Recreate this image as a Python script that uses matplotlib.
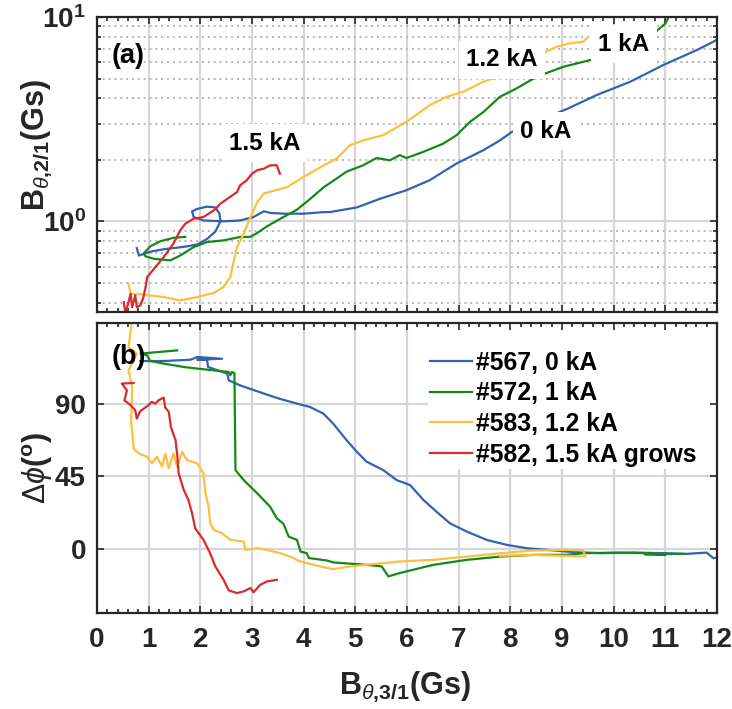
import matplotlib
matplotlib.use("Agg")
import matplotlib.pyplot as plt
from matplotlib.ticker import FixedLocator, FixedFormatter, MultipleLocator, NullFormatter

# ---- B_theta,2/1 vs B_theta,3/1 (top panel, log y) ----
top_x_567 = [0.77, 0.81, 1.03, 1.29, 1.68, 1.94, 2.13, 2.29, 2.39, 2.37, 2.29, 2.13, 1.94, 1.84,
             1.87, 2.06, 2.45, 2.77, 3.03, 3.23, 3.35, 3.61, 4.00, 4.39, 4.51, 5.03, 5.48, 5.99,
             6.44, 6.96, 7.48, 7.80, 8.03, 8.40, 8.80, 9.12, 9.67, 10.32, 10.96, 11.61, 11.93, 12.0]
top_y_567 = [0.74, 0.68, 0.71, 0.73, 0.75, 0.77, 0.82, 0.89, 1.00, 1.09, 1.17, 1.18, 1.15, 1.12,
             1.05, 1.01, 1.00, 1.01, 1.05, 1.12, 1.10, 1.09, 1.09, 1.11, 1.11, 1.17, 1.29, 1.42,
             1.59, 1.92, 2.23, 2.49, 2.74, 3.00, 3.30, 3.57, 4.15, 4.82, 5.82, 6.89, 7.57, 7.75]

top_x_572 = [1.71, 1.48, 1.23, 1.03, 0.90, 0.94, 1.10, 1.42, 1.61, 1.87, 2.13, 2.45, 2.77, 2.97,
             3.10, 3.29, 3.55, 3.87, 4.13, 4.39, 4.51, 4.83, 5.15, 5.41, 5.67, 5.86, 5.99, 6.32,
             6.70, 6.96, 7.22, 7.48, 7.80, 8.12, 8.51, 9.02, 9.67, 10.3, 10.75, 11.0, 11.12]
top_y_572 = [0.84, 0.83, 0.80, 0.754, 0.695, 0.674, 0.656, 0.644, 0.68, 0.748, 0.792, 0.807, 0.838,
             0.84, 0.877, 0.945, 1.03, 1.14, 1.29, 1.47, 1.54, 1.75, 1.88, 2.04, 1.99, 2.11, 2.04,
             2.19, 2.40, 2.64, 3.07, 3.43, 4.07, 4.47, 5.10, 5.70, 6.27, 7.0, 8.2, 9.3, 10.6]

top_x_583 = [0.61, 0.65, 0.84, 1.29, 1.61, 1.94, 2.26, 2.45, 2.58, 2.65, 2.71, 2.84, 2.97, 3.10,
             3.23, 3.42, 3.68, 4.00, 4.39, 4.64, 4.90, 5.15, 5.54, 5.99, 6.44, 6.77, 7.09, 7.48,
             7.86, 8.19, 8.60, 8.90, 9.15, 9.41, 9.51]
top_y_583 = [0.495, 0.442, 0.439, 0.426, 0.41, 0.426, 0.446, 0.477, 0.533, 0.644, 0.748, 0.87,
             1.05, 1.24, 1.37, 1.41, 1.47, 1.65, 1.88, 2.03, 2.36, 2.49, 2.64, 3.07, 3.70, 4.07,
             4.31, 4.82, 5.2, 5.5, 6.6, 7.15, 7.43, 7.57, 8.0]

top_x_582 = [0.52, 0.55, 0.61, 0.65, 0.68, 0.74, 0.77, 0.84, 0.90, 0.94, 0.97, 1.13, 1.29, 1.48,
             1.61, 1.71, 1.87, 2.06, 2.26, 2.39, 2.58, 2.71, 2.77, 2.90, 3.00, 3.10, 3.23, 3.35,
             3.48, 3.54]
top_y_582 = [0.402, 0.355, 0.402, 0.442, 0.38, 0.434, 0.38, 0.388, 0.426, 0.477, 0.533, 0.597,
             0.668, 0.778, 0.903, 0.974, 1.03, 1.05, 1.13, 1.22, 1.32, 1.39, 1.50, 1.59, 1.71,
             1.78, 1.81, 1.88, 1.88, 1.71]

# ---- phase difference vs B_theta,3/1 (bottom panel) ----
bot_x_567 = [0.84, 1.29, 1.81, 1.94, 2.42, 1.94, 2.13, 2.15, 2.52, 2.55, 2.77, 3.23, 3.52, 3.87,
             4.12, 4.38, 4.57, 4.83, 5.03, 5.22, 5.54, 5.80, 6.06, 6.32, 6.57, 6.83, 7.16, 7.54,
             7.93, 8.32, 8.71, 9.09, 9.74, 10.38, 11.03, 11.41, 11.80, 11.93, 12.0]
bot_y_567 = [116.4, 116.4, 117.2, 118.9, 117.8, 117.2, 117.2, 112.7, 108.6, 104.4, 101.3, 96.2,
             93.1, 90.0, 87.9, 83.8, 77.6, 67.3, 60.0, 53.9, 48.7, 42.5, 39.4, 30.1, 22.9, 15.7,
             10.5, 5.4, 2.3, 0.2, -0.8, -1.9, -2.9, -2.5, -2.9, -3.3, -2.5, -6.0, -5.5]

bot_x_572 = [1.55, 0.84, 0.97, 1.03, 1.29, 1.68, 1.94, 2.26, 2.55, 2.58, 2.61, 2.66, 2.68, 2.84,
             3.10, 3.35, 3.48, 3.61, 3.71, 3.87, 3.94, 4.06, 4.10, 4.45, 4.57, 5.22, 5.51, 5.64,
             5.86, 6.51, 7.16, 7.80, 8.45, 9.09, 9.41, 10.06, 10.7, 11.0, 10.6, 11.35]
bot_y_572 = [123.0, 121.0, 119.9, 116.4, 114.8, 112.7, 111.7, 110.6, 109.6, 107.5, 109.6, 108.9,
             48.7, 42.5, 34.3, 26.0, 18.8, 15.3, 7.4, 5.4, -1.9, -2.9, -5.9, -7.4, -8.6, -10.1,
             -11.1, -17.3, -15.2, -10.1, -7.0, -5.0, -3.9, -3.9, -2.9, -2.5, -2.9, -4.0, -3.5, -3.3]

bot_x_583 = [0.65, 0.68, 0.61, 0.77, 0.61, 0.68, 0.66, 0.71, 0.81, 0.97, 1.06, 1.16, 1.26, 1.32,
             1.39, 1.48, 1.55, 1.65, 1.74, 1.94, 2.06, 2.10, 2.16, 2.19, 2.26, 2.42, 2.58, 2.84,
             2.87, 3.10, 3.29, 3.55, 3.74, 3.93, 4.32, 4.57, 4.90, 5.22, 5.86, 6.51, 7.16, 7.80,
             8.45, 9.09, 9.41, 9.45, 8.45, 7.80]
bot_y_583 = [143.6, 141.6, 125.0, 121.0, 110.6, 100.3, 79.7, 62.1, 59.0, 57.0, 52.9, 57.0, 50.8,
             59.0, 49.8, 59.0, 50.8, 60.0, 54.9, 52.9, 46.7, 34.3, 26.0, 15.7, 11.6, 9.5, 5.4,
             4.3, -0.8, 0.2, -0.8, -2.9, -5.0, -8.0, -11.1, -12.8, -11.1, -10.1, -8.0, -7.0,
             -5.0, -2.9, -1.2, -0.8, -1.2, -4.9, -4.0, -4.5]

bot_x_582 = [0.71, 0.48, 0.58, 0.53, 0.65, 0.74, 0.77, 0.84, 0.97, 1.06, 1.13, 1.19, 1.29, 1.32,
             1.39, 1.43, 1.52, 1.55, 1.58, 1.68, 1.77, 1.84, 1.90, 2.06, 2.19, 2.29, 2.45, 2.55,
             2.71, 2.84, 2.97, 3.03, 3.16, 3.29, 3.48]
bot_y_582 = [102.8, 102.4, 98.2, 92.0, 89.0, 85.9, 80.7, 85.4, 88.3, 91.0, 90.0, 92.0, 93.7, 87.5,
             84.8, 75.5, 67.3, 59.0, 46.7, 36.3, 30.1, 21.9, 12.6, 5.4, -2.9, -11.1, -19.4, -26.0,
             -27.6, -26.6, -24.5, -27.1, -22.5, -20.4, -19.4]

legend_labels = ["#567, 0 kA", "#572, 1 kA", "#583, 1.2 kA", "#582, 1.5 kA grows"]
colors = ["#3262b2", "#14891a", "#fdbf3e", "#d82b2b"]

# current labels placed on the top panel
curve_labels = ["1.5 kA", "1.2 kA", "1 kA", "0 kA"]
curve_label_x = [3.25, 7.84, 10.2, 8.69]
curve_label_y = [2.41, 6.16, 7.37, 2.76]

plt.rcParams["font.family"] = "Liberation Sans"
plt.rcParams["font.weight"] = "bold"
plt.rcParams["mathtext.fontset"] = "custom"
plt.rcParams["mathtext.rm"] = "Liberation Sans:weight=normal"
plt.rcParams["mathtext.it"] = "Liberation Sans:style=italic:weight=normal"
plt.rcParams["mathtext.bf"] = "Liberation Sans:weight=bold"

SPINE = "#262626"
GRID = "#d6d6d6"

# legend block in the bottom panel (axes fraction): gridlines stop at its edges
LEG_LEFT, LEG_BOTTOM = 0.532, 0.493


def style_axes(ax):
    for s in ax.spines.values():
        s.set_linewidth(1.6)
        s.set_color(SPINE)
    ax.tick_params(which="both", direction="in", top=True, right=True, color=SPINE, width=1.2)
    ax.tick_params(which="major", length=5, labelsize=20, labelcolor=SPINE)
    ax.tick_params(axis="x", which="major", pad=10)
    ax.tick_params(axis="y", which="major", pad=8)
    ax.tick_params(which="minor", length=3)
    ax.set_axisbelow(True)
    ax.set_xlim(0, 12)
    ax.xaxis.set_major_locator(MultipleLocator(1))
    ax.xaxis.set_minor_locator(MultipleLocator(0.2))


fig = plt.figure(figsize=(7.32, 7.09), dpi=100)
ax1 = fig.add_axes([97 / 732, 1 - 312 / 709, 620 / 732, 295 / 709])
ax2 = fig.add_axes([97 / 732, 1 - 613 / 709, 620 / 732, 290 / 709])

# top panel
style_axes(ax1)
ax1.grid(True, which="major", color=GRID, lw=1.6, ls="-")
ax1.set_yscale("log")
ax1.set_ylim(0.36, 10)
ax1.yaxis.set_major_locator(FixedLocator([1, 10]))
ax1.yaxis.set_major_formatter(FixedFormatter([r"$\mathbf{10^{0}}$", r"$\mathbf{10^{1}}$"]))
ax1.yaxis.set_minor_locator(FixedLocator([0.4, 0.5, 0.6, 0.7, 0.8, 0.9, 2, 3, 4, 5, 6, 7, 8, 9]))
ax1.yaxis.set_minor_formatter(NullFormatter())
ax1.xaxis.set_major_formatter(NullFormatter())
ax1.grid(True, which="minor", axis="y", color="#b4b4b4", lw=1.4, ls=(0, (1, 2)))

top_series = [(top_x_567, top_y_567), (top_x_572, top_y_572),
              (top_x_583, top_y_583), (top_x_582, top_y_582)]
for (xs, ys), c in zip(top_series, colors):
    ax1.plot(xs, ys, color=c, lw=1.6)

for txt, x, y in zip(curve_labels, curve_label_x, curve_label_y):
    ax1.text(x, y, txt, fontsize=17.5, fontweight="bold", ha="center", va="center", zorder=4,
             bbox=dict(boxstyle="square,pad=0.3", fc="white", ec="none"))
ax1.text(0.024, 0.868, "(a)", transform=ax1.transAxes, fontsize=19.5, fontweight="bold",
         ha="left", va="center")

# bottom panel
style_axes(ax2)
ax2.set_ylim(-40, 140)
ax2.set_yticks([0, 45, 90])

# grid drawn by hand so it stays clear of the legend block
x_frac = lambda v: (v - 0) / 12
for gx in range(1, 12):
    top = LEG_BOTTOM if x_frac(gx) > LEG_LEFT else 1
    ax2.axvline(gx, ymin=0, ymax=top, color=GRID, lw=1.6, zorder=0.5)
for gy in [0, 45, 90]:
    right = LEG_LEFT if (gy + 40) / 180 > LEG_BOTTOM else 1
    ax2.axhline(gy, xmin=0, xmax=right, color=GRID, lw=1.6, zorder=0.5)

bot_series = [(bot_x_567, bot_y_567), (bot_x_572, bot_y_572),
              (bot_x_583, bot_y_583), (bot_x_582, bot_y_582)]
for (xs, ys), c, lab in zip(bot_series, colors, legend_labels):
    ax2.plot(xs, ys, color=c, lw=1.6, label=lab)

ax2.text(0.024, 0.883, "(b)", transform=ax2.transAxes, fontsize=19.5, fontweight="bold",
         ha="left", va="center")

ax2.legend(loc="upper left", bbox_to_anchor=(0.537, 0.905), prop={"size": 17.8, "weight": "bold"},
           frameon=False, borderaxespad=0, borderpad=0, handlelength=1.7, handletextpad=0.15,
           labelspacing=0.27)

# axis labels
fig.text(0.553, 0.031, r"$\mathbf{B}_{\theta\mathbf{{,}3/1}}\mathbf{(Gs)}$", fontsize=22,
         ha="center", va="center", color=SPINE)
fig.text(0.050, 0.795, r"$\mathbf{B}_{\theta\mathbf{{,}2/1}}\mathbf{(Gs)}$", fontsize=22,
         ha="center", va="center", rotation=90, color=SPINE)
fig.text(0.052, 0.34, r"$\Delta\phi\mathbf{(^{o})}$", fontsize=22,
         ha="center", va="center", rotation=90, color=SPINE)

fig.savefig("out.png", dpi=100)
